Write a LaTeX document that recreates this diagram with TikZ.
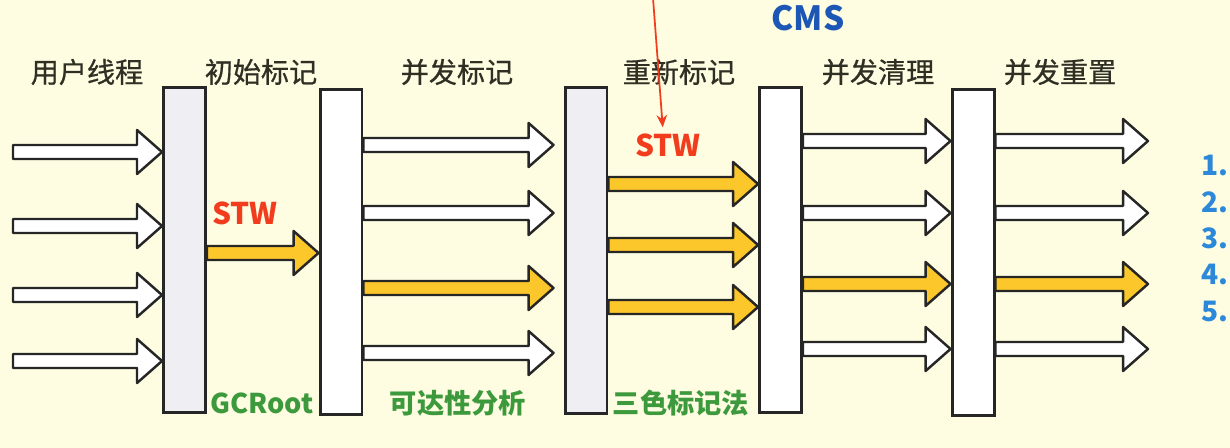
\documentclass[tikz,border=0pt]{standalone}
\usepackage{fontspec}
\usetikzlibrary{calc,arrows.meta}
\newfontfamily\cjk{Noto Sans CJK SC}
\newfontfamily\cjkmoyen[FakeBold=0.6]{Noto Sans CJK SC}

\definecolor{fond}{HTML}{FEFCE1}
\definecolor{gris}{HTML}{EEEEF3}
\definecolor{jaune}{HTML}{FBC72A}
\definecolor{texte}{HTML}{2F2F24}
\definecolor{rouge}{HTML}{F23C1E}
\definecolor{vert}{HTML}{3C9A3C}
\definecolor{bleu}{HTML}{1D57B5}
\definecolor{bleuclair}{HTML}{2C88D9}

\tikzset{
  barre/.style={draw=black!85, line width=1.7pt, fill=#1, inner sep=0pt,
    minimum width=0.84cm, minimum height=6.52cm},
  barre/.default=white,
  fleche/.style={draw=black!85, line width=1.4pt, line join=round, fill=#1,
    to path={let \p1=(\tikztostart), \p2=(\tikztotarget) in
      (\x1,\y1+0.14cm) -- (\x2-0.5cm,\y1+0.14cm) -- (\x2-0.5cm,\y1+0.44cm)
      -- (\x2,\y1) -- (\x2-0.5cm,\y1-0.44cm) -- (\x2-0.5cm,\y1-0.14cm)
      -- (\x1,\y1-0.14cm) -- cycle}},
  fleche/.default=white,
  titre/.style={font=\cjkmoyen\fontsize{16}{16}\selectfont, text=texte},
  stw/.style={font=\cjk\bfseries\fontsize{17}{17}\selectfont, text=rouge},
  algo/.style={font=\cjk\bfseries\fontsize{15.5}{16}\selectfont, text=vert},
  num/.style={font=\cjk\bfseries\fontsize{16}{16}\selectfont, text=bleuclair, anchor=west}
}

\begin{document}
\begin{tikzpicture}[x=0.02cm, y=-0.02cm]
        % Le fond
        \fill[fond] (0,0) rectangle (1230,448);
        \useasboundingbox (0,0) rectangle (1230,448);

        % Les titres
        \node (cms) [font=\cjk\bfseries\fontsize{19}{19}\selectfont, text=bleu] at (808,18) {CMS};
        \node (t1) [titre] at (87,72) {用户线程};
        \node (t2) [titre] at (261,72) {初始标记};
        \node (t3) [titre] at (457,72) {并发标记};
        \node (t4) [titre] at (679,72) {重新标记};
        \node (t5) [titre] at (878,72) {并发清理};
        \node (t6) [titre] at (1060,72) {并发重置};

        % Les barres
        \node (b1) [barre=gris] at (184.5,250) {};
        \node (b2) [barre] at (341,252) {};
        \node (b3) [barre=gris] at (586,250.5) {};
        \node (b4) [barre] at (780.5,250) {};
        \node (b5) [barre] at (973,252.5) {};

        % Les threads utilisateur
        \coordinate (u1) at (13,152);
        \coordinate (u2) at (13,226);
        \coordinate (u3) at (13,295);
        \coordinate (u4) at (13,361);
        \draw[fleche] (u1) to (b1.west |- u1);
        \draw[fleche] (u2) to (b1.west |- u2);
        \draw[fleche] (u3) to (b1.west |- u3);
        \draw[fleche] (u4) to (b1.west |- u4);

        % Marquage initial
        \draw[fleche=jaune] (b1.east |- 0,253) to (b2.west |- 0,253);

        % Marquage concurrent
        \draw[fleche] (b2.east |- 0,145) to ([xshift=-0.2cm]b3.west |- 0,145);
        \draw[fleche] (b2.east |- 0,213) to ([xshift=-0.2cm]b3.west |- 0,213);
        \draw[fleche=jaune] (b2.east |- 0,288) to ([xshift=-0.2cm]b3.west |- 0,288);
        \draw[fleche] (b2.east |- 0,353) to ([xshift=-0.2cm]b3.west |- 0,353);

        % Remarquage
        \draw[fleche=jaune] (b3.east |- 0,184) to (b4.west |- 0,184);
        \draw[fleche=jaune] (b3.east |- 0,245) to (b4.west |- 0,245);
        \draw[fleche=jaune] (b3.east |- 0,307) to (b4.west |- 0,307);

        % Nettoyage concurrent
        \draw[fleche] (b4.east |- 0,141) to (b5.west |- 0,141);
        \draw[fleche] (b4.east |- 0,213) to (b5.west |- 0,213);
        \draw[fleche=jaune] (b4.east |- 0,284) to (b5.west |- 0,284);
        \draw[fleche] (b4.east |- 0,349) to (b5.west |- 0,349);

        % Reinitialisation
        \coordinate (s1) at (1148,141);
        \coordinate (s2) at (1148,213);
        \coordinate (s3) at (1148,284);
        \coordinate (s4) at (1148,349);
        \draw[fleche] (b5.east |- s1) to (s1);
        \draw[fleche] (b5.east |- s2) to (s2);
        \draw[fleche=jaune] (b5.east |- s3) to (s3);
        \draw[fleche] (b5.east |- s4) to (s4);

        % Les etiquettes
        \node (stw1) [stw] at (245,213) {STW};
        \node (stw2) [stw] at (668,145) {STW};
        \node (gc) [algo] at (262,403) {GCRoot};
        \node (acc) [algo] at (458,403) {可达性分析};
        \node (tri) [algo] at (681,403) {三色标记法};

        % Le trait rouge
        \coordinate (stylo) at (653,-2);
        \draw[rouge, line width=1pt, -{Stealth[length=7pt,width=6pt]}] (stylo) -- ([xshift=-3pt]stw2.north);

        % La liste
        \node (n1) [num] at (1195,165) {1.};
        \node (n2) [num] at (1195,202) {2.};
        \node (n3) [num] at (1195,238) {3.};
        \node (n4) [num] at (1195,274) {4.};
        \node (n5) [num] at (1195,311) {5.};
    \end{tikzpicture}
\end{document}
